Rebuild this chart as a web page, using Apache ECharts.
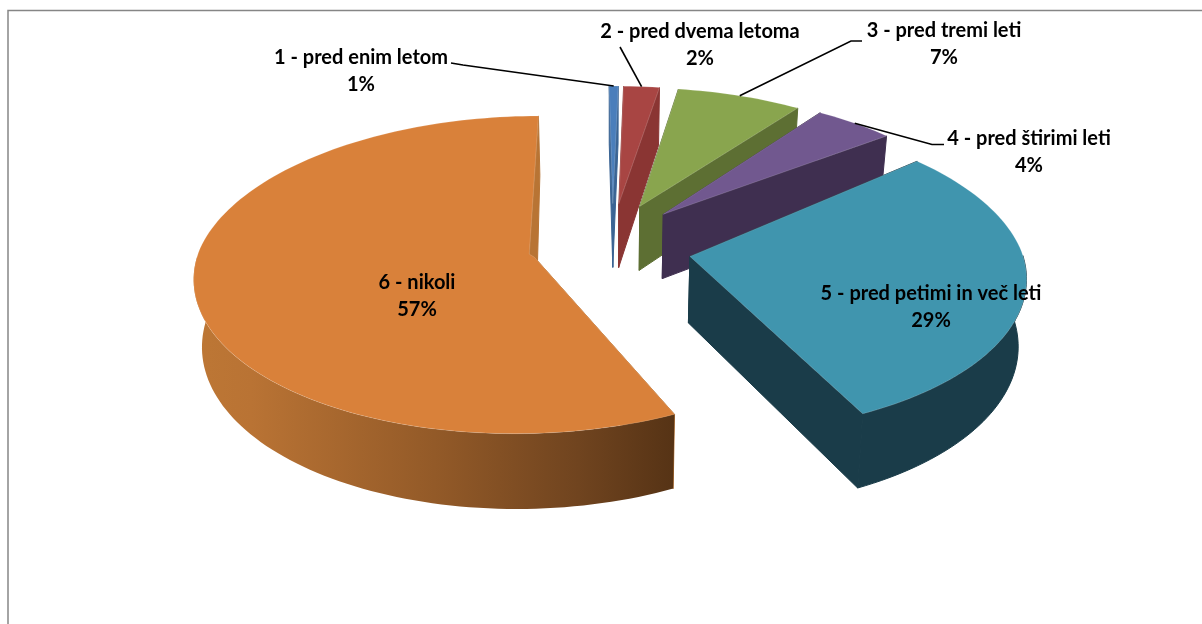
<!DOCTYPE html>
<html><head><meta charset="utf-8">
<style>html,body{margin:0;padding:0;background:#fff}#c{width:1202px;height:624px}</style>
<script src="https://cdn.jsdelivr.net/npm/echarts@6/dist/echarts.min.js"></script>
</head><body><div id="c"></div>
<script>
// data
var categories = ['1 - pred enim letom','2 - pred dvema letoma','3 - pred tremi leti','4 - pred štirimi leti','5 - pred petimi in več leti','6 - nikoli'];
var shares = [0.5, 2.0, 6.95, 4.4, 29.15, 57.0];
// styles
var topColors  = ['#4a7ebb','#a84543','#89a54e','#71588f','#4095ae','#d9813a'];
var wallColors = ['#3a6494','#8a3533','#5d6f33','#3f2f50','#1a3c49','#b87434'];
// layout
var cx=610, cy=249, rx=327, ry=155, depth=66, pers=0.118, exApex=0.242, exRim=0.262, backShrink=0.07, eyApex=0.29, eyRim=0.20, lean=0.98, startDeg=-0.3, apexDx=2, apexDy=-2;
var lastNotch=[-5,-3];
var labelPos = [[361,71],[700,45],[944,44],[1029,152],[931,307],[417,296]];
var leaderElbow = [[[451,63],[463,65]],[[620,47]],[[862,41],[851,41]],[[944,144.5],[932,144.5]],null,null];

function den(F){return 1-pers*F;}
function topPt(X,F){var s=1/den(F);return [cx+rx*X*s,cy+ry*F*s];}
function botPt(X,F){var s=1/den(F);return [cx+rx*X*s*lean,cy+ry*F*s+depth*s];}
function sliceGeom(i){
  var total=shares.reduce(function(a,b){return a+b;},0),acc=0;
  for(var k=0;k<i;k++)acc+=shares[k];
  var a0=startDeg+acc/total*360,a1=a0+shares[i]/total*360,mid=(a0+a1)/2*Math.PI/180;
  return {a0:a0,a1:a1,oxA:exApex*Math.sin(mid),oxR:exRim*Math.sin(mid),oyA:-eyApex*Math.cos(mid),oyR:-eyRim*Math.cos(mid)};
}
function rimXF(g,deg){
  var r=deg*Math.PI/180,F=g.oyR-Math.cos(r);
  return [g.oxR*(1+backShrink*Math.min(F,0))+Math.sin(r),F];
}

function renderSlice(params,api){
  var i=api.value(0),g=sliceGeom(i),n=Math.max(4,Math.ceil((g.a1-g.a0)/1.5)),rim=[],front=[];
  for(var k=0;k<=n;k++){
    var d=g.a0+(g.a1-g.a0)*k/n;
    rim.push(rimXF(g,d));
    if(d>=90&&d<=270)front.push(rimXF(g,d));
  }
  var top=rim.map(function(p){return topPt(p[0],p[1]);});
  var bot=rim.map(function(p){return botPt(p[0],p[1]);});
  var aT=topPt(g.oxA,g.oyA),aB=botPt(g.oxA,g.oyA);
  aT=[aT[0]+apexDx,aT[1]+apexDy];aB=[aB[0]+apexDx,aB[1]+apexDy];
  var isLast=i===shares.length-1;
  var notch=[aT[0]+lastNotch[0],aT[1]+lastNotch[1]];
  var wall=wallColors[i];
  var children=[];
  function poly(pts,fill,stroke,lw){children.push({type:'polygon',shape:{points:pts},style:{fill:fill,stroke:stroke,lineWidth:lw}});}
  poly([aT,top[0],bot[0],aB],wall,wall,1);
  poly(isLast?[notch,top[n],bot[n],aB]:[aT,top[n],bot[n],aB],wall,wall,1);
  if(front.length>1){
    var fTop=front.map(function(p){return topPt(p[0],p[1]);});
    var fBot=front.map(function(p){return botPt(p[0],p[1]);});
    var fill=wall;
    if(i===5){
      fill={type:'linear',x:1,y:0,x2:0,y2:0,colorStops:[{offset:1,color:'#bd7735'},{offset:0.88,color:'#b97334'},{offset:0.5,color:'#935a28'},{offset:0.2,color:'#70441f'},{offset:0,color:'#563315'}]};
    }
    children.push({type:'polygon',shape:{points:fTop.concat(fBot.slice().reverse())},style:{fill:fill,stroke:i===5?null:wall,lineWidth:1}});
  }
  var face=[aT].concat(top);
  if(isLast)face.push(notch);
  poly(face,topColors[i],'rgba(255,255,255,0.15)',1);
  return {type:'group',children:children};
}
function renderLabel(params,api){
  var i=api.value(0),g=sliceGeom(i),children=[];
  var p=rimXF(g,(g.a0+g.a1)/2),end=topPt(p[0],p[1]);
  if(leaderElbow[i]){
    children.push({type:'polyline',shape:{points:leaderElbow[i].concat([end])},style:{fill:null,stroke:'#000',lineWidth:1.6}});
  }
  children.push({type:'text',style:{x:labelPos[i][0],y:labelPos[i][1],text:categories[i]+'\n'+Math.round(api.value(1))+'%',
    fill:'#000',fontFamily:'Lato',fontWeight:'bold',fontSize:20,lineHeight:26.5,align:'center',verticalAlign:'middle'}});
  return {type:'group',children:children};
}
var rows=categories.map(function(c,i){return [i,shares[i]];});
var chart=echarts.init(document.getElementById('c'),null,{width:1202,height:624});
chart.setOption({
  animation:false,backgroundColor:'#fff',
  graphic:[{type:'polyline',silent:true,shape:{points:[[8,624],[8,10.5],[1202,10.5]]},style:{fill:null,stroke:'#868686',lineWidth:1.5}}],
  series:[
    {type:'custom',coordinateSystem:'none',silent:true,data:rows,renderItem:renderSlice,z:2},
    {type:'custom',coordinateSystem:'none',silent:true,data:rows,renderItem:renderLabel,z:3}
  ]
});
</script></body></html>
